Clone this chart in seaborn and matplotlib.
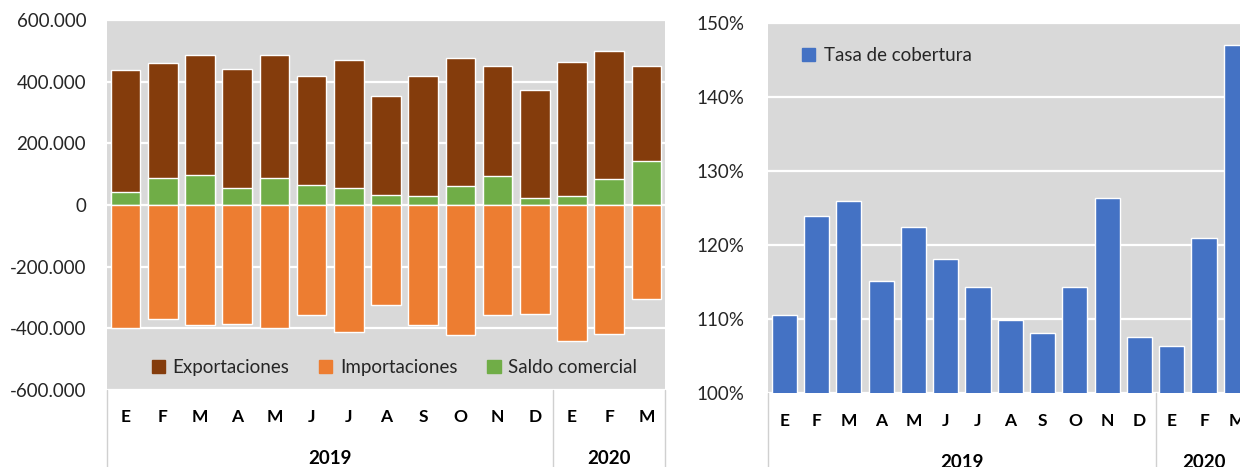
import numpy as np
import pandas as pd
import matplotlib
matplotlib.use("Agg")
import matplotlib.pyplot as plt
from matplotlib.patches import Patch
from matplotlib.ticker import FuncFormatter, MultipleLocator
import seaborn as sns

# Data
months = ["E", "F", "M", "A", "M", "J", "J", "A", "S", "O", "N", "D", "E", "F", "M"]
years = ["2019"] * 12 + ["2020"] * 3
exportaciones = [437000, 460000, 488000, 442000, 488000, 418000, 469000, 354000,
                 418000, 477000, 451000, 372000, 465000, 501000, 451000]
importaciones = [-399000, -370000, -390000, -385000, -399000, -356000, -412000, -325000,
                 -390000, -421000, -356000, -352000, -440000, -417000, -306000]
saldo = [42000, 88000, 98000, 56000, 88000, 66000, 56000, 33000,
         28000, 60000, 94000, 24000, 28000, 83000, 143000]
tasa = [110.6, 123.9, 125.9, 115.1, 122.4, 118.1, 114.3, 109.9,
        108.1, 114.3, 126.4, 107.6, 106.4, 120.9, 147.0]

c_exp = "#843C0C"
c_imp = "#ED7D31"
c_sal = "#70AD47"
c_tasa = "#4472C4"
bg = "#D9D9D9"
sep = "#D0D0D0"

sns.set_theme(style="white")
plt.rcParams["font.family"] = ["Lato", "DejaVu Sans"]

keys = [f"{m}-{y}-{i}" for i, (m, y) in enumerate(zip(months, years))]
df = pd.DataFrame({"key": keys, "exp": exportaciones, "imp": importaciones,
                   "sal": saldo, "tasa": tasa})

fig = plt.figure(figsize=(12.4, 4.67), dpi=100)
ax1 = fig.add_axes([0.0863, 0.1649, 0.45, 0.7923])
ax2 = fig.add_axes([0.6194, 0.1585, 0.3907, 0.7923])


def style_axis(ax):
    ax.set_facecolor(bg)
    for s in ax.spines.values():
        s.set_visible(False)
    ax.set_axisbelow(True)
    ax.grid(axis="y", color="white", linewidth=1.6)
    ax.grid(axis="x", visible=False)
    ax.tick_params(axis="both", length=0)
    ax.set_xlabel("")
    ax.set_ylabel("")
    ax.set_xticklabels([])


def category_axis(ax, month_y, year_y, bottom):
    n = len(months)
    tr = ax.get_xaxis_transform()
    for xb in [-0.5, 11.5, n - 0.5]:
        ax.plot([xb, xb], [0, bottom], color=sep, lw=1.0, transform=tr, clip_on=False)
    for i, m in enumerate(months):
        ax.text(i, month_y, m, transform=tr, ha="center", va="center",
                fontsize=12.5, fontweight="bold", color="black")
    for yr in ["2019", "2020"]:
        idx = [i for i, y in enumerate(years) if y == yr]
        ax.text(np.mean(idx), year_y, yr, transform=tr, ha="center", va="center",
                fontsize=13.5, fontweight="bold", color="black")


# Left chart: exports, imports, trade balance
sns.barplot(data=df, x="key", y="exp", color=c_exp, saturation=1, width=0.8, ax=ax1)
sns.barplot(data=df, x="key", y="sal", color=c_sal, saturation=1, width=0.8, ax=ax1)
sns.barplot(data=df, x="key", y="imp", color=c_imp, saturation=1, width=0.8, ax=ax1)
style_axis(ax1)
ax1.set_xlim(-0.5, len(months) - 0.5)
ax1.set_ylim(-600000, 600000)
ax1.yaxis.set_major_locator(MultipleLocator(200000))
ax1.yaxis.set_major_formatter(FuncFormatter(lambda v, p: f"{v:,.0f}".replace(",", ".")))
ax1.tick_params(axis="y", labelsize=13.5, pad=15)
category_axis(ax1, -0.073, -0.184, -0.21)
handles = [Patch(color=c_exp, label="Exportaciones"),
           Patch(color=c_imp, label="Importaciones"),
           Patch(color=c_sal, label="Saldo comercial")]
ax1.legend(handles=handles, loc="center", bbox_to_anchor=(0.515, 0.06), ncol=3,
           frameon=False, fontsize=13.5, handlelength=0.7, handleheight=0.7,
           handletextpad=0.4, columnspacing=1.6)

# Right chart: coverage rate
sns.barplot(data=df, x="key", y="tasa", color=c_tasa, saturation=1, width=0.78, ax=ax2)
style_axis(ax2)
ax2.set_xlim(-0.5, len(months) - 0.5)
ax2.set_ylim(100, 150)
ax2.yaxis.set_major_locator(MultipleLocator(10))
ax2.yaxis.set_major_formatter(FuncFormatter(lambda v, p: f"{v:.0f}%"))
ax2.tick_params(axis="y", labelsize=13.5, pad=17)
category_axis(ax2, -0.076, -0.187, -0.21)
ax2.legend(handles=[Patch(color=c_tasa, label="Tasa de cobertura")], loc="center left",
           bbox_to_anchor=(0.035, 0.913), frameon=False, fontsize=13.5,
           handlelength=0.7, handleheight=0.7, handletextpad=0.5)

fig.savefig("out.png", dpi=100)
